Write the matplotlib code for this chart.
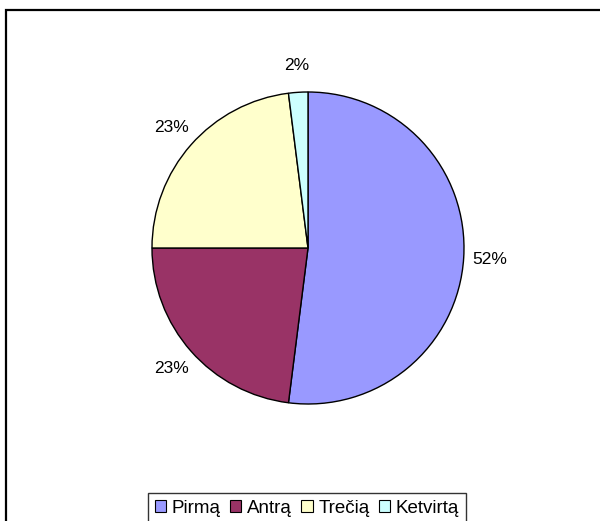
import matplotlib
matplotlib.use("Agg")
import matplotlib.pyplot as plt
from matplotlib.patches import Rectangle

# ─── Data ──────────────────────────────────────────────────────────────────────
categories = ["Pirmą", "Antrą", "Trečią", "Ketvirtą"]
shares     = [52, 23, 23, 2]
colors     = ["#9999FF", "#993366", "#FFFFCC", "#CCFFFF"]
# ────────────────────────────────────────────────────────────────────────────────

plt.rcParams["font.family"] = ["Liberation Sans", "DejaVu Sans"]

fig = plt.figure(figsize=(6.0, 5.21), dpi=100)

# outer chart frame (runs off the right and bottom edges)
fig.patches.append(Rectangle((6 / 600, -0.05), 1.2, (521 - 10) / 521 + 0.05,
                             transform=fig.transFigure, fill=False,
                             edgecolor="black", linewidth=1.6, clip_on=False))

ax = fig.add_axes([(308 - 156) / 600, (273 - 156) / 521, 312 / 600, 312 / 521])
wedges, texts, autotexts = ax.pie(
    shares, colors=colors, startangle=90, counterclock=False,
    autopct="%1.0f%%", pctdistance=1.17,
    wedgeprops=dict(edgecolor="black", linewidth=1.0),
    textprops=dict(fontsize=12.5, color="black"))
ax.set_xlim(-1, 1)
ax.set_ylim(-1, 1)
ax.set_aspect("equal")
ax.axis("off")

leg = fig.legend(wedges, categories, ncol=4, loc="upper center",
                 bbox_to_anchor=(307 / 600, 37 / 521), fontsize=13.5,
                 frameon=True, fancybox=False, edgecolor="black",
                 handlelength=0.6, handleheight=0.6, handletextpad=0.3,
                 columnspacing=0.5, borderpad=0.35)
leg.get_frame().set_linewidth(1.0)
for h in leg.legend_handles:
    h.set_linewidth(0.8)

fig.savefig("out.png", dpi=100)
